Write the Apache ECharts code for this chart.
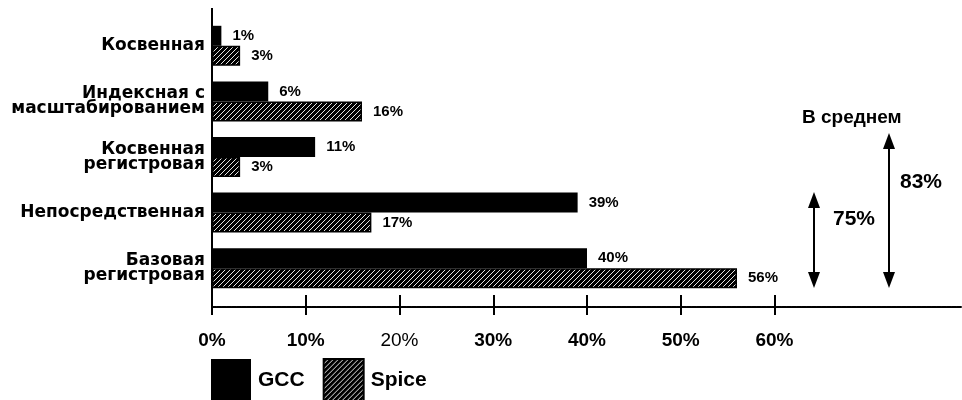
<!DOCTYPE html>
<html><head><meta charset="utf-8">
<script src="https://cdn.jsdelivr.net/npm/echarts@6/dist/echarts.min.js"></script>
<style>html,body{margin:0;padding:0;background:#fff}#c{width:962px;height:400px}</style>
</head><body><div id="c"></div>
<script>
const categories = ['Косвенная', 'Индексная с\nмасштабированием', 'Косвенная\nрегистровая', 'Непосредственная', 'Базовая\nрегистровая'];
const seriesNames = ['GCC', 'Spice'];
const gccValues = [1, 6, 11, 39, 40];
const spiceValues = [3, 16, 3, 17, 56];
const xTickValues = [0, 10, 20, 30, 40, 50, 60];
const averageTitle = 'В среднем';
const averageLabels = ['75%', '83%'];

function hatch() {
  const s = 5, c = document.createElement('canvas');
  c.width = s; c.height = s;
  const g = c.getContext('2d');
  g.fillStyle = '#000'; g.fillRect(0, 0, s, s);
  g.strokeStyle = '#fff'; g.lineWidth = 0.9;
  g.beginPath();
  g.moveTo(0, s); g.lineTo(s, 0);
  g.moveTo(-1, 1); g.lineTo(1, -1);
  g.moveTo(s - 1, s + 1); g.lineTo(s + 1, s - 1);
  g.stroke();
  return c;
}
const hatchFill = { image: hatch(), repeat: 'repeat' };

function arrow(x, y1, y2) {
  return [
    { type: 'line', shape: { x1: x, y1: y1 + 12, x2: x, y2: y2 - 12 }, style: { stroke: '#000', lineWidth: 2 } },
    { type: 'polygon', shape: { points: [[x, y1], [x + 6, y1 + 16], [x - 6, y1 + 16]] }, style: { fill: '#000' } },
    { type: 'polygon', shape: { points: [[x, y2], [x + 6, y2 - 16], [x - 6, y2 - 16]] }, style: { fill: '#000' } }
  ];
}

const valueLabel = {
  show: true, position: 'right', distance: 11, color: '#000',
  fontFamily: 'Liberation Sans', fontWeight: 'bold', fontSize: 15,
  formatter: p => p.value + '%'
};

const chart = echarts.init(document.getElementById('c'), null, { renderer: 'canvas' });
chart.setOption({
  animation: false,
  backgroundColor: '#fff',
  grid: { left: 212, right: -2, top: 18, bottom: 104, containLabel: false },
  legend: {
    data: seriesNames, left: 211, top: 358, orient: 'horizontal', icon: 'rect',
    itemWidth: 40, itemHeight: 42, itemGap: 18, padding: 0,
    textStyle: { fontFamily: 'Liberation Sans', fontWeight: 'bold', fontSize: 21, color: '#000', padding: [0, 0, 0, 2] }
  },
  xAxis: [{
    type: 'value', min: 0, max: 80, interval: 10, position: 'bottom', offset: 11,
    axisLine: { show: true, lineStyle: { color: '#000', width: 2, type: [4, 1] } },
    axisTick: { show: true, customValues: xTickValues, length: 8, lineStyle: { color: '#000', width: 2 } },
    splitLine: { show: false },
    axisLabel: {
      customValues: xTickValues, margin: 24, color: '#000',
      formatter: v => v === 20 ? '{r|' + v + '%}' : '{b|' + v + '%}',
      rich: {
        b: { fontFamily: 'Liberation Sans', fontWeight: 'bold', fontSize: 19, color: '#000' },
        r: { fontFamily: 'Liberation Sans', fontWeight: 'normal', fontSize: 19, color: '#000' }
      }
    }
  }, {
    type: 'value', min: 0, max: 80, interval: 10, position: 'bottom', offset: 11,
    axisLine: { show: false },
    axisTick: { show: true, inside: true, customValues: xTickValues, length: 12, lineStyle: { color: '#000', width: 2 } },
    splitLine: { show: false },
    axisLabel: { show: false }
  }],
  yAxis: {
    type: 'category', data: categories, inverse: true,
    axisLine: { show: false }, axisTick: { show: false },
    axisLabel: {
      margin: 7, color: '#000', fontFamily: 'DejaVu Sans', fontWeight: 'bold', fontSize: 17, lineHeight: 15
    }
  },
  series: [{
    name: seriesNames[0], type: 'bar', data: gccValues, barWidth: 20, barGap: '0%',
    itemStyle: { color: '#000' }, label: valueLabel
  }, {
    name: seriesNames[1], type: 'bar', data: spiceValues, barWidth: 20, barGap: '0%',
    itemStyle: { color: hatchFill, borderColor: '#000', borderWidth: 1.5 }, label: valueLabel
  }],
  graphic: [
    { type: 'line', shape: { x1: 212, y1: 8, x2: 212, y2: 308 }, style: { stroke: '#000', lineWidth: 2 } },
    { type: 'text', left: 802, top: 108, style: { text: averageTitle, fontFamily: 'Liberation Sans', fontWeight: 'bold', fontSize: 19, fill: '#000' } },
    ...arrow(814, 192, 288),
    ...arrow(889, 133, 288),
    { type: 'text', left: 833, top: 209, style: { text: averageLabels[0], fontFamily: 'Liberation Sans', fontWeight: 'bold', fontSize: 21, fill: '#000' } },
    { type: 'text', left: 900, top: 172, style: { text: averageLabels[1], fontFamily: 'Liberation Sans', fontWeight: 'bold', fontSize: 21, fill: '#000' } }
  ]
});
</script></body></html>
